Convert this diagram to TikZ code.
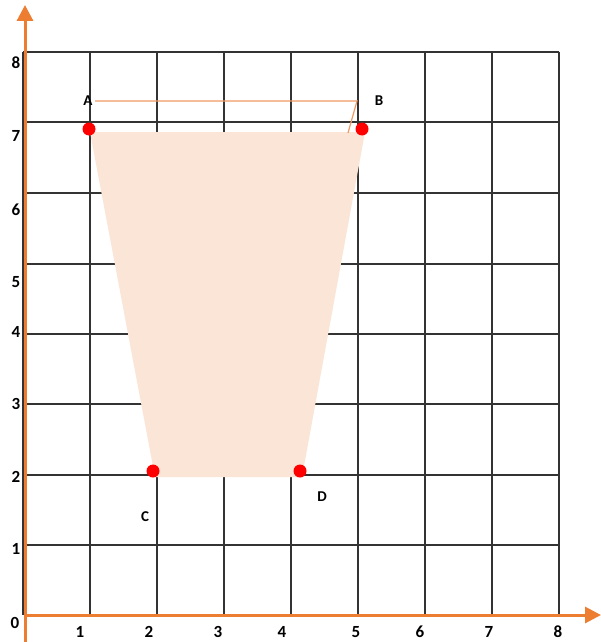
\documentclass[tikz,border=0pt]{standalone}
\usepackage{fontspec}
\setmainfont{Carlito}
\usetikzlibrary{arrows.meta}
\definecolor{axisorange}{HTML}{ED7D31}
\definecolor{fillpeach}{HTML}{FBE5D6}
\definecolor{gridgray}{HTML}{333333}
\definecolor{lineorange}{HTML}{F09A64}
\begin{document}
\begin{tikzpicture}[x=1pt,y=-1pt,
  gridline/.style={draw=gridgray,line width=1.5pt},
  axisline/.style={draw=axisorange,line width=3pt,-{Triangle[length=16pt,width=16pt]}},
  dot/.style={circle,fill=red,inner sep=0pt,minimum size=13pt},
  guide/.style={draw=lineorange,line width=1.2pt},
  ptlabel/.style={font=\bfseries\fontsize{15}{15}\selectfont,inner sep=0pt},
  numlabel/.style={font=\bfseries\fontsize{17}{17}\selectfont,inner sep=0pt}]
\useasboundingbox (0,0) rectangle (601,642);
\fill[white] (0,0) rectangle (601,642);
% grid
\foreach \x in {90,157,224,291,358,425,492,559}
  \draw[gridline] (\x,52) -- (\x,615);
\foreach \y in {52,122,193,264,334,404,475,545}
  \draw[gridline] (23,\y) -- (559,\y);
\draw[gridline] (23,52) -- (23,615);
% axes
\coordinate (ybot) at (25,642);
\coordinate (ytop) at (25,5);
\coordinate (xleft) at (25,615);
\coordinate (xright) at (601,615);
\draw[axisline] (ybot) -- (ytop);
\draw[axisline] (xleft) -- (xright);
% shape
\fill[fillpeach] (90,132) -- (365,132) -- (302,477) -- (155,477) -- cycle;
\node[dot] (A) at (89,129) {};
\node[dot] (B) at (362,129) {};
\node[dot] (C) at (153,471) {};
\node[dot] (D) at (300,471) {};
% guide line
\coordinate (g1) at (95,101);
\coordinate (g2) at (357,101);
\coordinate (g3) at (348,133);
\draw[guide] (g1) -- (g2) -- (g3);
% point labels
\node[ptlabel] (lA) at (88,101) {A};
\node[ptlabel] (lB) at (379,101) {B};
\node[ptlabel] (lC) at (145,517) {C};
\node[ptlabel] (lD) at (322,497) {D};
% axis numbers
\node[numlabel] (x0) at (15,623) {0};
\node[numlabel] (x1) at (80,632) {1};
\node[numlabel] (x2) at (149,632) {2};
\node[numlabel] (x3) at (218,632) {3};
\node[numlabel] (x4) at (282,632) {4};
\node[numlabel] (x5) at (356,632) {5};
\node[numlabel] (x6) at (420,632) {6};
\node[numlabel] (x7) at (489,632) {7};
\node[numlabel] (x8) at (558,632) {8};
\node[numlabel] (y8) at (16,63) {8};
\node[numlabel] (y7) at (16,136) {7};
\node[numlabel] (y6) at (16,210) {6};
\node[numlabel] (y5) at (16,282) {5};
\node[numlabel] (y4) at (16,332) {4};
\node[numlabel] (y3) at (16,404) {3};
\node[numlabel] (y2) at (16,477) {2};
\node[numlabel] (y1) at (16,549) {1};
\end{tikzpicture}
\end{document}
